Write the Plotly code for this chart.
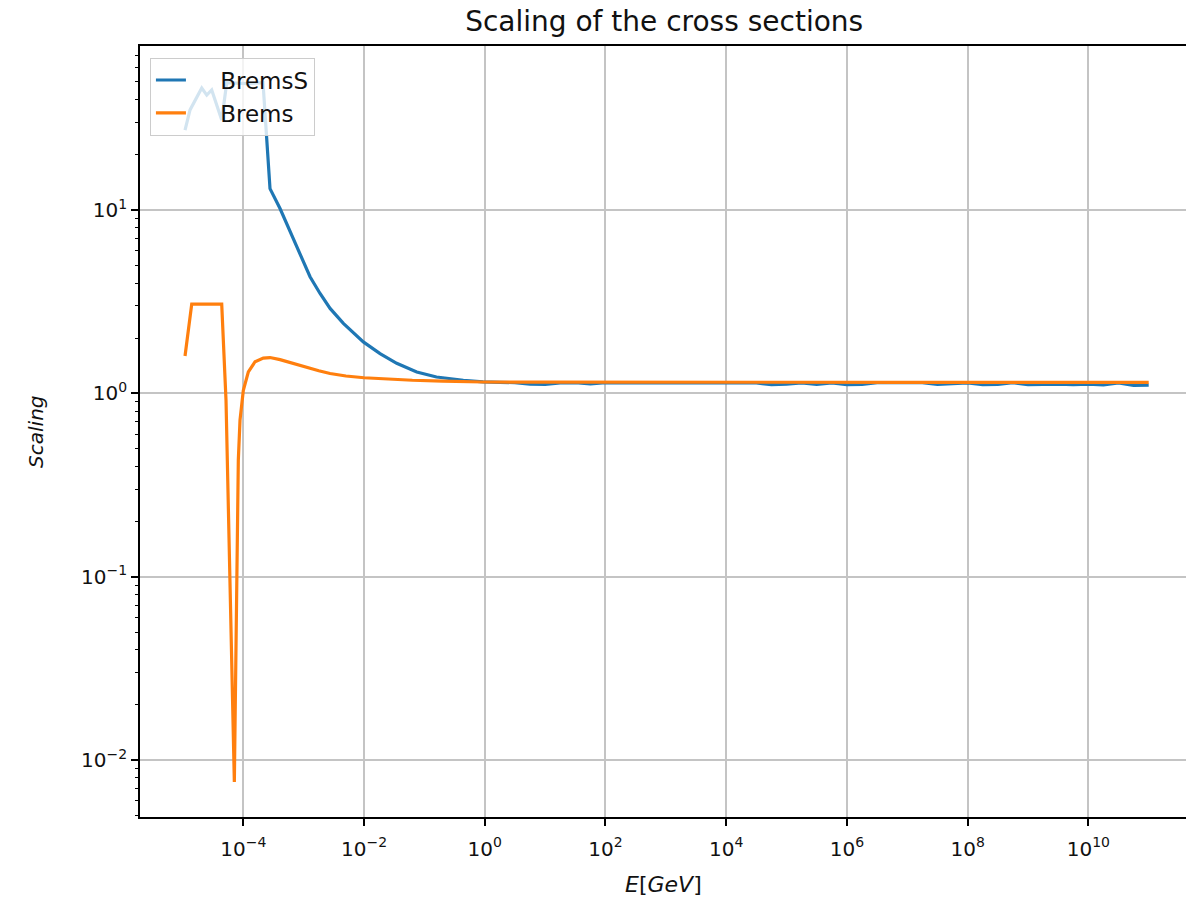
import plotly.graph_objects as go

# ---- data (log10 of energy in GeV, and scaling values) ----
bremsS_logE = [-4.966, -4.883, -4.689, -4.606, -4.524, -4.358, -4.275, -3.95, -3.674,
               -3.612, -3.558, -3.392, -3.226, -3.06, -2.895, -2.729, -2.563, -2.343,
               -2.012, -1.735, -1.459, -1.127, -0.80, -0.355, -0.03,
               0.25, 0.5, 0.75, 1.0, 1.25, 1.5, 1.75, 2.0, 2.25, 2.5, 2.75, 3.0, 3.25,
               3.5, 3.75, 4.0, 4.25, 4.5, 4.75, 5.0, 5.25, 5.5, 5.75, 6.0, 6.25, 6.5,
               6.75, 7.0, 7.25, 7.5, 7.75, 8.0, 8.25, 8.5, 8.75, 9.0, 9.25, 9.5, 9.75,
               10.0, 10.25, 10.5, 10.75, 11.0]
bremsS_val = [27.3, 35.2, 46.3, 42.4, 45.2, 31.0, 49.5, 49.0, 49.5,
              25.1, 13.1, 10.2, 7.62, 5.81, 4.33, 3.51, 2.91, 2.41,
              1.91, 1.65, 1.46, 1.31, 1.23, 1.18, 1.157,
              1.15, 1.145, 1.125, 1.12, 1.14, 1.145, 1.128, 1.145, 1.14, 1.145, 1.145,
              1.14, 1.145, 1.145, 1.14, 1.145, 1.145, 1.14, 1.118, 1.125, 1.14, 1.12,
              1.14, 1.118, 1.12, 1.145, 1.145, 1.14, 1.145, 1.12, 1.125, 1.14, 1.118,
              1.12, 1.145, 1.118, 1.12, 1.125, 1.118, 1.125, 1.112, 1.14, 1.105, 1.11]

brems_logE = [-4.966, -4.855, -4.358, -4.287, -4.149, -4.083, -4.055, -4.0, -3.917,
              -3.806, -3.669, -3.558, -3.392, -3.1, -2.75, -2.563, -2.3, -2.0, -1.6,
              -1.2, -0.7, -0.03, 1.0, 2.0, 3.0, 4.0, 5.0, 6.0, 7.0, 8.0, 9.0, 10.0, 11.0]
brems_val = [1.60, 3.07, 3.07, 0.92, 0.0076, 0.433, 0.715, 1.04, 1.31,
             1.49, 1.56, 1.57, 1.53, 1.43, 1.33, 1.285, 1.245, 1.218, 1.195,
             1.18, 1.168, 1.155, 1.152, 1.15, 1.15, 1.15, 1.15, 1.15, 1.15, 1.15,
             1.15, 1.15, 1.148]

x_tick_vals = [1e-4, 1e-2, 1e0, 1e2, 1e4, 1e6, 1e8, 1e10]
x_tick_text = ["10<sup>−4</sup>", "10<sup>−2</sup>", "10<sup>0</sup>", "10<sup>2</sup>",
               "10<sup>4</sup>", "10<sup>6</sup>", "10<sup>8</sup>", "10<sup>10</sup>"]
y_tick_vals = [1e-2, 1e-1, 1e0, 1e1]
y_tick_text = ["10<sup>−2</sup>", "10<sup>−1</sup>", "10<sup>0</sup>", "10<sup>1</sup>"]
y_minor_vals = [0.005, 0.006, 0.007, 0.008, 0.009,
                0.02, 0.03, 0.04, 0.05, 0.06, 0.07, 0.08, 0.09,
                0.2, 0.3, 0.4, 0.5, 0.6, 0.7, 0.8, 0.9,
                2, 3, 4, 5, 6, 7, 8, 9,
                20, 30, 40, 50, 60, 70]

FONT = "DejaVu Sans"

bremsS_E = [10 ** v for v in bremsS_logE]
brems_E = [10 ** v for v in brems_logE]

fig = go.Figure()
fig.add_trace(go.Scatter(x=bremsS_E, y=bremsS_val, mode="lines",
                         name="&nbsp;&nbsp;&nbsp;&nbsp;BremsS",
                         line=dict(color="#1f77b4", width=3.2)))
fig.add_trace(go.Scatter(x=brems_E, y=brems_val, mode="lines",
                         name="&nbsp;&nbsp;&nbsp;&nbsp;Brems",
                         line=dict(color="#ff7f0e", width=3.2)))

fig.update_layout(
    width=1186, height=905,
    margin=dict(l=140, r=0, t=46, b=88),
    paper_bgcolor="white", plot_bgcolor="white",
    font=dict(family=FONT, size=19, color="black"),
    title=dict(text="Scaling of the cross sections", x=0.56, xanchor="center",
               y=1 - 21 / 905, yref="container", yanchor="middle",
               font=dict(family=FONT, size=28, color="#111111")),
    xaxis=dict(type="log", range=[-5.712, 11.618],
               tickmode="array", tickvals=x_tick_vals, ticktext=x_tick_text,
               ticks="outside", ticklen=7, tickwidth=1.5, tickcolor="black",
               ticklabelstandoff=6,
               showline=True, linecolor="black", linewidth=1.6, mirror=True,
               showgrid=True, gridcolor="#c4c4c4", gridwidth=1.6,
               zeroline=False, tickfont=dict(family=FONT, size=20, color="#111111")),
    yaxis=dict(type="log", range=[-2.31, 1.895],
               tickmode="array", tickvals=y_tick_vals, ticktext=y_tick_text,
               ticks="outside", ticklen=7, tickwidth=1.5, tickcolor="black",
               showline=True, linecolor="black", linewidth=1.6,
               showgrid=True, gridcolor="#c4c4c4", gridwidth=1.6,
               zeroline=False, tickfont=dict(family=FONT, size=20, color="#111111")),
    yaxis2=dict(type="log", range=[-2.31, 1.895], overlaying="y", side="left",
                anchor="x", tickmode="array", tickvals=y_minor_vals,
                ticks="outside", ticklen=4, tickwidth=1.2, tickcolor="black",
                showticklabels=False, showgrid=False, showline=False, zeroline=False),
    legend=dict(x=0.0095, y=0.985, xanchor="left", yanchor="top",
                bgcolor="rgba(255,255,255,0.8)", bordercolor="#cccccc", borderwidth=1,
                font=dict(family=FONT, size=23, color="#111111")),
    showlegend=True,
)

fig.add_trace(go.Scatter(x=[1e-3], y=[1.0], yaxis="y2", mode="markers",
                         marker=dict(opacity=0), showlegend=False, hoverinfo="skip"))

fig.add_annotation(text="<i>E</i>[<i>GeV</i>]", xref="paper", yref="paper",
                   x=0.5, y=-0.088, xanchor="center", yanchor="middle", showarrow=False,
                   font=dict(family=FONT, size=22, color="#111111"))
fig.add_annotation(text="<i>Scaling</i>", xref="paper", yref="paper",
                   x=-0.1, y=0.5, xanchor="center", yanchor="middle", showarrow=False,
                   textangle=-90, font=dict(family=FONT, size=20, color="#111111"))

fig.write_html("out.html")
